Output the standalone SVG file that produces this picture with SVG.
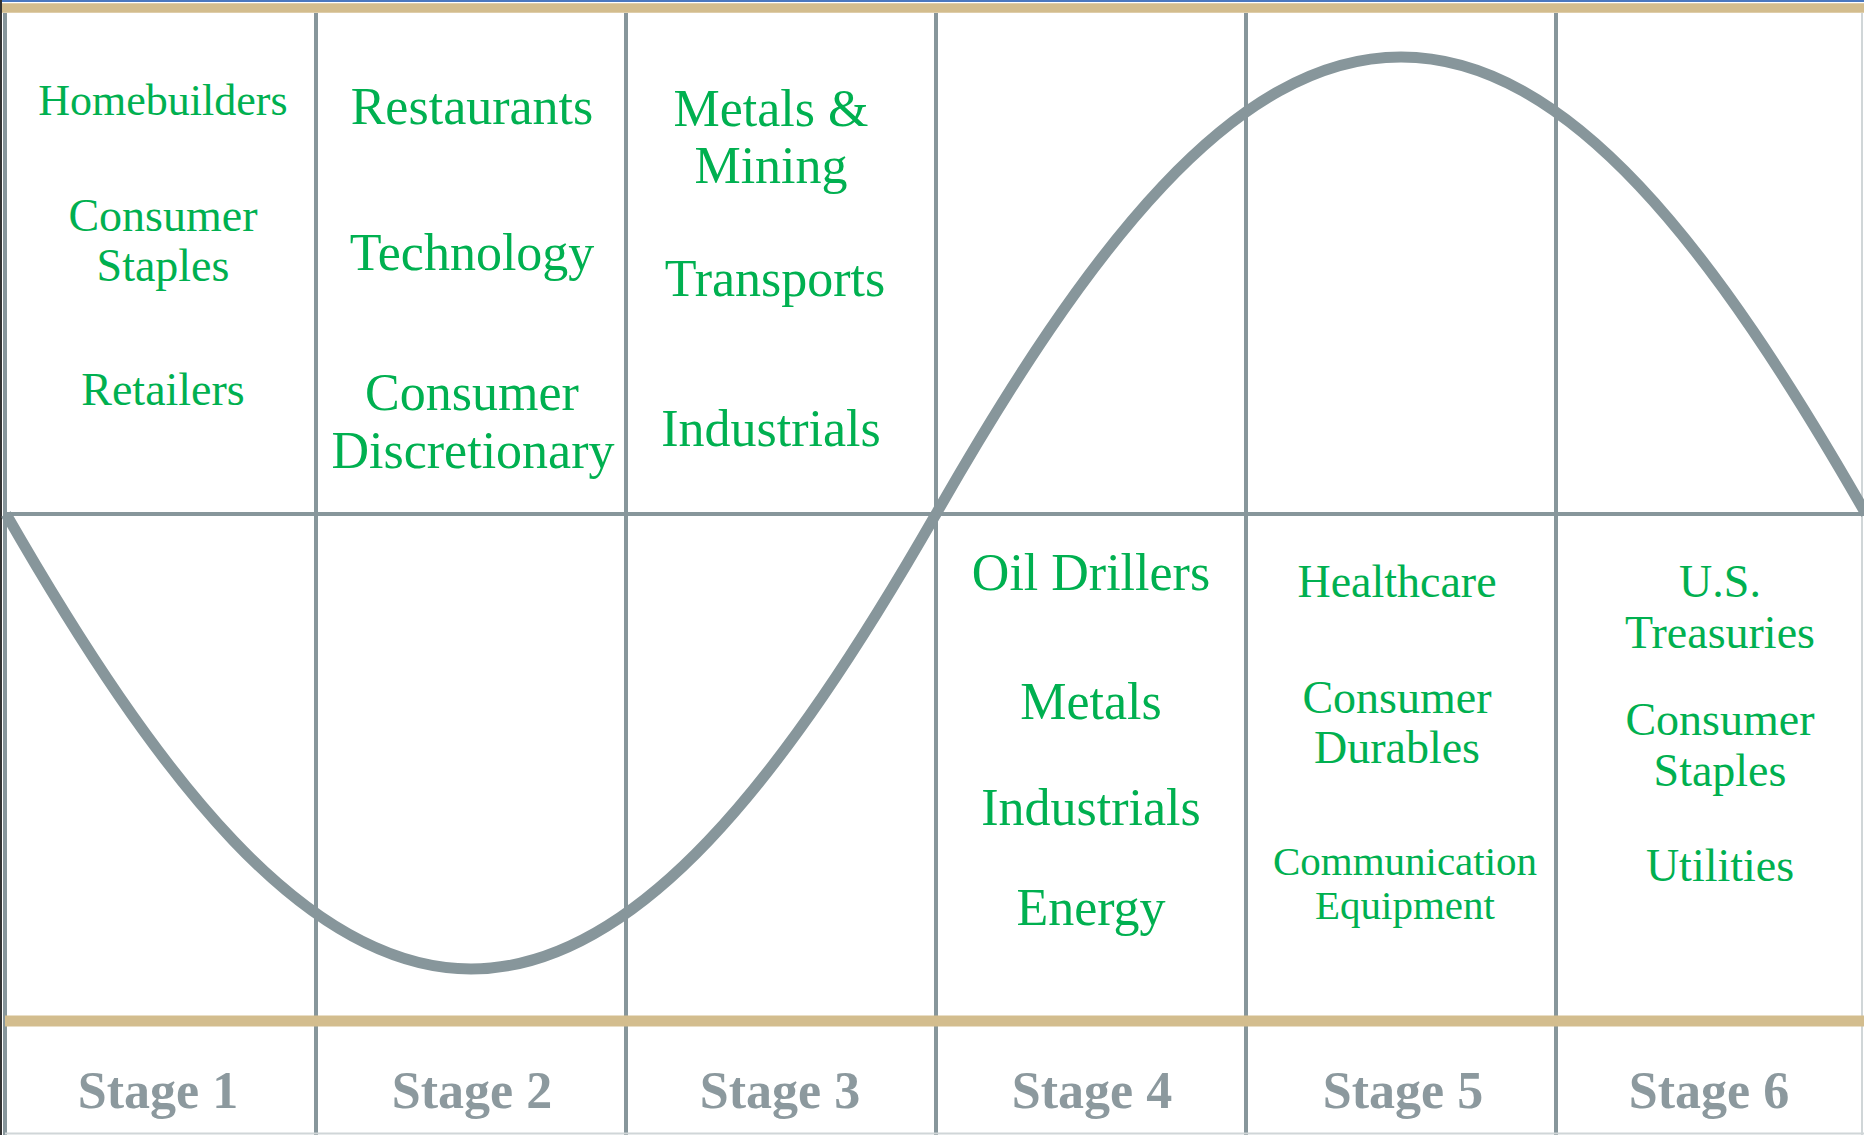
<svg xmlns="http://www.w3.org/2000/svg" width="1864" height="1135" viewBox="0 0 1864 1135">
<style>
.grid{stroke:#87969b;stroke-width:4;fill:none}
.tan{stroke:#d3bd8e;fill:none}
.curve{stroke:#87969b;stroke-width:11;fill:none}
.lbl{font-family:"Liberation Serif","Times New Roman",serif;fill:#00b050;text-anchor:middle}
.big{font-size:52px}
.sm{font-size:46px}
.xs{font-size:41px}
.stage{font-family:"Liberation Serif","Times New Roman",serif;font-weight:bold;font-size:52px;fill:#8c999e;text-anchor:middle}
</style>
<rect width="1864" height="1135" fill="#ffffff"/>
<g id="grid">
<rect x="0" y="0" width="1864" height="2" fill="#4a78c0"/>
<line class="tan" x1="0" y1="8" x2="1864" y2="8" stroke-width="9.5"/>
<rect x="0" y="0" width="2" height="1135" fill="#333"/>
<line class="grid" x1="5" y1="13" x2="5" y2="1135"/>
<line x1="1862" y1="13" x2="1862" y2="1135" stroke="#d0d6d8" stroke-width="2"/>
<line class="grid" x1="316" y1="13" x2="316" y2="1135"/>
<line class="grid" x1="626" y1="13" x2="626" y2="1135"/>
<line class="grid" x1="936" y1="13" x2="936" y2="1135"/>
<line class="grid" x1="1246" y1="13" x2="1246" y2="1135"/>
<line class="grid" x1="1556" y1="13" x2="1556" y2="1135"/>
<line class="grid" x1="5" y1="514" x2="1864" y2="514"/>
<line class="tan" x1="5" y1="1021" x2="1864" y2="1021" stroke-width="11"/>
<line x1="5" y1="1133.5" x2="1864" y2="1133.5" stroke="#d0d6d8" stroke-width="2"/>
</g>
<g id="connectors">
<path class="curve" d="M 6 514 C 158 779, 306 969, 471 969 C 636 969, 784 779, 936 514 C 1088 248, 1234 57, 1401 57 C 1568 57, 1714 248, 1866 514"/>
</g>
<g id="stage1">
<text class="lbl" x="163" y="115" style="font-size:44px">Homebuilders</text>
<text class="lbl sm" x="163" y="231">Consumer</text>
<text class="lbl sm" x="163" y="281">Staples</text>
<text class="lbl sm" x="163" y="405">Retailers</text>
<text class="stage" x="158" y="1108">Stage 1</text>
</g>
<g id="stage2">
<text class="lbl big" x="472" y="124">Restaurants</text>
<text class="lbl big" x="472" y="270">Technology</text>
<text class="lbl big" x="472" y="410">Consumer</text>
<text class="lbl big" x="473" y="468">Discretionary</text>
<text class="stage" x="472" y="1108">Stage 2</text>
</g>
<g id="stage3">
<text class="lbl big" x="771" y="126">Metals &amp;</text>
<text class="lbl big" x="771" y="183">Mining</text>
<text class="lbl big" x="775" y="296">Transports</text>
<text class="lbl big" x="771" y="446">Industrials</text>
<text class="stage" x="780" y="1108">Stage 3</text>
</g>
<g id="stage4">
<text class="lbl big" x="1091" y="590">Oil Drillers</text>
<text class="lbl big" x="1091" y="719">Metals</text>
<text class="lbl big" x="1091" y="825">Industrials</text>
<text class="lbl big" x="1091" y="925">Energy</text>
<text class="stage" x="1092" y="1108">Stage 4</text>
</g>
<g id="stage5">
<text class="lbl sm" x="1397" y="597">Healthcare</text>
<text class="lbl sm" x="1397" y="713">Consumer</text>
<text class="lbl sm" x="1397" y="763">Durables</text>
<text class="lbl xs" x="1405" y="875">Communication</text>
<text class="lbl xs" x="1405" y="919">Equipment</text>
<text class="stage" x="1403" y="1108">Stage 5</text>
</g>
<g id="stage6">
<text class="lbl sm" x="1720" y="597">U.S.</text>
<text class="lbl sm" x="1720" y="648">Treasuries</text>
<text class="lbl sm" x="1720" y="735">Consumer</text>
<text class="lbl sm" x="1720" y="786">Staples</text>
<text class="lbl sm" x="1720" y="881">Utilities</text>
<text class="stage" x="1709" y="1108">Stage 6</text>
</g>
</svg>
